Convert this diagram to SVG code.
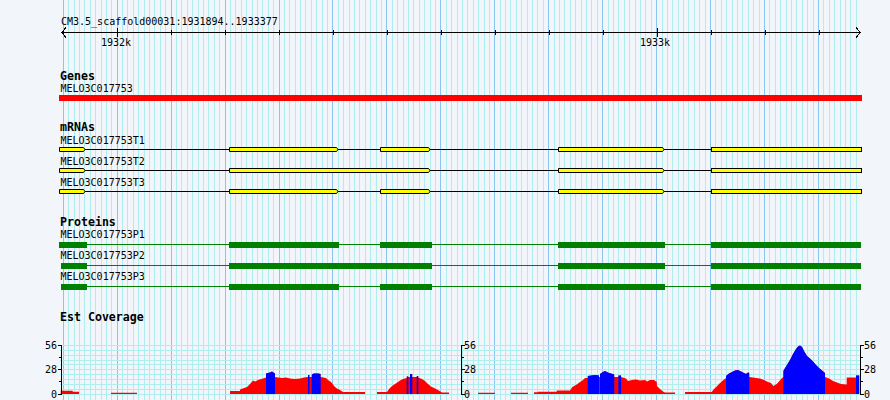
<svg xmlns="http://www.w3.org/2000/svg" xmlns:xlink="http://www.w3.org/1999/xlink" width="890" height="400" viewBox="0 0 890 400">
<style>
.mn{stroke:#afeeee;stroke-width:1;shape-rendering:crispEdges}
.mj{stroke:#87c6ee;stroke-width:1;shape-rendering:crispEdges}
.hg{stroke:#afeeee;stroke-width:1;shape-rendering:crispEdges}
.t{font-family:"DejaVu Sans Mono","Liberation Mono",monospace;font-size:10px;fill:#000}
.b{font-family:"DejaVu Sans Mono","Liberation Mono",monospace;font-size:11.6px;font-weight:bold;fill:#000}
.k{stroke:#000;stroke-width:1;fill:none;shape-rendering:crispEdges}
.ex{fill:#ffff00;stroke:#000;stroke-width:1}
.in{stroke:#000;stroke-width:1;shape-rendering:crispEdges}
.pl{stroke:#008000;stroke-width:1;shape-rendering:crispEdges}
.pb{fill:#008000;shape-rendering:crispEdges}
</style>
<defs>
<g id="blk">
<line class="mj" x1="0" y1="0" x2="0" y2="400"/>
<line class="mn" x1="5.394" y1="0" x2="5.394" y2="400"/>
<line class="mn" x1="10.789" y1="0" x2="10.789" y2="400"/>
<line class="mn" x1="16.183" y1="0" x2="16.183" y2="400"/>
<line class="mn" x1="21.578" y1="0" x2="21.578" y2="400"/>
<line class="mn" x1="26.972" y1="0" x2="26.972" y2="400"/>
<line class="mn" x1="32.366" y1="0" x2="32.366" y2="400"/>
<line class="mn" x1="37.761" y1="0" x2="37.761" y2="400"/>
<line class="mn" x1="43.155" y1="0" x2="43.155" y2="400"/>
<line class="mn" x1="48.550" y1="0" x2="48.550" y2="400"/>
</g>
<clipPath id="cov">
<path d="M60.7,394 V390.7 H72.7 V391.7 H79 V394 Z
M111,394 V392.7 H137 V394 Z
M230,394 V391 H240 V389.5 L247,387 L250,384 L253,380.5 L255,381.5 L258,380 L261,379 L263,378.5 L266,377.5 L266,373.5 L270,372.5 L272,371.5 L274,373 L275,373.5 L275,377 L278,377.5 L282,378 L286,377.5 L290,378.5 L295,379 L300,378.5 L304,377.5 L308,377 L308,375 L309.5,375 L309.5,377 L311.7,377 L311.7,374.5 L314,373.5 L318,373.5 L320.7,374 L320.7,377 L326,378 L328,380 L331,382 L333,384.5 L335,387 L337,388.5 L340,390 L343,392 H365 V394 Z
M377,394 V392 H387 L389,389 L392,386 L395,384 L398,382 L400,380.5 L403,379 L406.7,378 L406.7,376.5 L408.3,376.5 L408.3,377 L410,377 L410,374 L412.3,374 L412.3,377 L416.7,377 L416.7,376 L418.3,376 L418.3,377.5 L422,379 L425,381 L428,384 L431,386.5 L435,388.5 L438,390 L442,392.5 H449 V394 Z
M478,394 V392.7 H495 V394 Z
M511,394 V392.7 H528 V394 Z
M534,394 V392.3 H537.7 V391.7 H556.7 V390.5 H570 L572.3,387 L576.7,384.5 L580,382 L583,380 L585,378 H587.7 V376 L595,375 L599,375.5 V377 H600 V374 L603,372 L605,371 L607,372 L609,373 L611,373.5 L614.3,374.5 V377 H618.3 V375.5 H621 V377 L626,378.5 L628,381 L632,380 L636,379.5 L640,380.5 L645,380 L647,381.5 L650,380 L654,380 L656.7,382 L657,386 L660,389 L663,391.5 L665,392.5 H675 V394 Z
M685,394 V392 H711.7 L714,389 L716.7,386.5 L719,384 L721.7,381.5 L724,379.5 L726,378 V376 L729,373.5 L732,372 L735,370.5 L738,370 L741,371.5 L744,373 L746,374 L748,372.5 L749.3,373 V377 L753,377.5 L756,378 L760,378.5 L764,380 L768,382 L771,383 L773.3,386 L776.7,384 L779,381.5 L781,379 L783.3,377 V371 L786,366.5 L790,360 L793,354 L796,349 L798,346.5 L800,345.5 L802,347 L804,351 L807,356 L810,358.5 L813,361.5 L816,365 L819,368 L822,370.5 L825,373 V377 L829,378.5 L833,381 L837,382.5 L841,384 L846.7,384.5 V377.5 H856 V375.5 H859.3 V394 Z"/>
</clipPath>
</defs>
<rect x="0" y="0" width="890" height="400" fill="#f2f6fa"/>
<g id="grid">
<use xlink:href="#blk" x="63.24"/>
<use xlink:href="#blk" x="117.18"/>
<use xlink:href="#blk" x="171.13"/>
<use xlink:href="#blk" x="225.07"/>
<use xlink:href="#blk" x="279.02"/>
<use xlink:href="#blk" x="332.96"/>
<use xlink:href="#blk" x="386.90"/>
<use xlink:href="#blk" x="440.85"/>
<use xlink:href="#blk" x="494.79"/>
<use xlink:href="#blk" x="548.74"/>
<use xlink:href="#blk" x="602.68"/>
<use xlink:href="#blk" x="656.62"/>
<use xlink:href="#blk" x="710.57"/>
<use xlink:href="#blk" x="764.51"/>
<line class="mj" x1="818.46" y1="0" x2="818.46" y2="400"/>
<line class="mn" x1="823.85" y1="0" x2="823.85" y2="400"/>
<line class="mn" x1="829.25" y1="0" x2="829.25" y2="400"/>
<line class="mn" x1="834.64" y1="0" x2="834.64" y2="400"/>
<line class="mn" x1="840.04" y1="0" x2="840.04" y2="400"/>
<line class="mn" x1="845.43" y1="0" x2="845.43" y2="400"/>
<line class="mn" x1="850.83" y1="0" x2="850.83" y2="400"/>
<line class="mn" x1="856.22" y1="0" x2="856.22" y2="400"/>
</g>
<g id="ruler">
<text class="t" x="61" y="25">CM3.5_scaffold00031:1931894..1933377</text>
<path class="k" d="M61,32.5 H861 M66,27.5 L61.5,32.5 L66,37.5 M856,27.5 L860.5,32.5 L856,37.5"/>
<path class="k" d="M63.5,30 V35 M117.5,28 V37 M171.5,30 V35 M225.5,30 V35 M279.5,30 V35 M333.5,30 V35 M387.5,30 V35 M441.5,30 V35 M495.5,30 V35 M549.5,30 V35 M603.5,30 V35 M657.5,28 V37 M711.5,30 V35 M765.5,30 V35 M819.5,30 V35"/>
<text class="t" x="116" y="46" text-anchor="middle">1932k</text>
<text class="t" x="655" y="46" text-anchor="middle">1933k</text>
</g>
<g id="genes">
<text class="b" x="60" y="80">Genes</text>
<text class="t" x="60.5" y="92">MELO3C017753</text>
<rect x="59" y="95" width="803" height="6" fill="#ff0000"/>
</g>
<g id="mrnas">
<text class="b" x="60" y="131">mRNAs</text>
</g>
<g id="T1">
<text class="t" x="60.5" y="144">MELO3C017753T1</text>
<line class="in" x1="59" y1="149.5" x2="862" y2="149.5"/>
<polygon class="ex" points="59.5,147.5 83.5,147.5 85,149.5 83.5,151.5 59.5,151.5"/>
<polygon class="ex" points="229.5,147.5 336.5,147.5 338,149.5 336.5,151.5 229.5,151.5"/>
<polygon class="ex" points="380.5,147.5 428.5,147.5 430,149.5 428.5,151.5 380.5,151.5"/>
<polygon class="ex" points="558.5,147.5 662.5,147.5 664,149.5 662.5,151.5 558.5,151.5"/>
<rect class="ex" x="711.5" y="147.5" width="150" height="4"/>
</g>
<g id="T2">
<text class="t" x="60.5" y="165">MELO3C017753T2</text>
<line class="in" x1="59" y1="170.5" x2="862" y2="170.5"/>
<polygon class="ex" points="59.5,168.5 83.5,168.5 85,170.5 83.5,172.5 59.5,172.5"/>
<polygon class="ex" points="229.5,168.5 428.5,168.5 430,170.5 428.5,172.5 229.5,172.5"/>
<polygon class="ex" points="558.5,168.5 662.5,168.5 664,170.5 662.5,172.5 558.5,172.5"/>
<rect class="ex" x="711.5" y="168.5" width="150" height="4"/>
</g>
<g id="T3">
<text class="t" x="60.5" y="186">MELO3C017753T3</text>
<line class="in" x1="59" y1="191.5" x2="862" y2="191.5"/>
<polygon class="ex" points="59.5,189.5 83.5,189.5 85,191.5 83.5,193.5 59.5,193.5"/>
<polygon class="ex" points="229.5,189.5 336.5,189.5 338,191.5 336.5,193.5 229.5,193.5"/>
<polygon class="ex" points="380.5,189.5 428.5,189.5 430,191.5 428.5,193.5 380.5,193.5"/>
<polygon class="ex" points="558.5,189.5 662.5,189.5 664,191.5 662.5,193.5 558.5,193.5"/>
<rect class="ex" x="711.5" y="189.5" width="150" height="4"/>
</g>
<g id="proteins">
<text class="b" x="60" y="226">Proteins</text>
</g>
<g id="P1">
<text class="t" x="60.5" y="238">MELO3C017753P1</text>
<line class="pl" x1="59" y1="244.5" x2="861" y2="244.5"/>
<rect class="pb" x="59" y="242" width="28" height="6"/>
<rect class="pb" x="229" y="242" width="110" height="6"/>
<rect class="pb" x="380" y="242" width="52" height="6"/>
<rect class="pb" x="558" y="242" width="107" height="6"/>
<rect class="pb" x="711" y="242" width="150" height="6"/>
</g>
<g id="P2">
<text class="t" x="60.5" y="259">MELO3C017753P2</text>
<line class="pl" x1="61" y1="265.5" x2="861" y2="265.5"/>
<rect class="pb" x="61" y="263" width="26" height="6"/>
<rect class="pb" x="229" y="263" width="203" height="6"/>
<rect class="pb" x="558" y="263" width="107" height="6"/>
<rect class="pb" x="711" y="263" width="150" height="6"/>
</g>
<g id="P3">
<text class="t" x="60.5" y="280">MELO3C017753P3</text>
<line class="pl" x1="61" y1="286.5" x2="861" y2="286.5"/>
<rect class="pb" x="61" y="284" width="26" height="6"/>
<rect class="pb" x="229" y="284" width="110" height="6"/>
<rect class="pb" x="380" y="284" width="52" height="6"/>
<rect class="pb" x="558" y="284" width="107" height="6"/>
<rect class="pb" x="711" y="284" width="150" height="6"/>
</g>
<g id="coverage">
<text class="b" x="60" y="321">Est Coverage</text>
<path class="hg" d="M60,345.5 H860 M60,350.5 H860 M60,355.5 H860 M60,360.5 H860 M60,364.5 H860 M60,369.5 H860 M60,374.5 H860 M60,379.5 H860 M60,384.5 H860 M60,389.5 H860 M60,394.5 H860"/>
<g clip-path="url(#cov)">
<rect x="60" y="340" width="802" height="55" fill="#ff0000"/>
<g fill="#0000ff">
<rect x="266" y="340" width="9" height="55"/>
<rect x="308" y="340" width="1.5" height="55"/>
<rect x="311.7" y="340" width="9" height="55"/>
<rect x="406.7" y="340" width="1.6" height="55"/>
<rect x="410" y="340" width="2.3" height="55"/>
<rect x="416.7" y="340" width="1.6" height="55"/>
<rect x="587.7" y="340" width="11.3" height="55"/>
<rect x="600" y="340" width="14.3" height="55"/>
<rect x="618.3" y="340" width="2.7" height="55"/>
<rect x="726" y="340" width="23.3" height="55"/>
<rect x="783.3" y="340" width="41.7" height="55"/>
<rect x="856" y="340" width="3.3" height="55"/>
</g>
</g>
<path class="k" d="M61.5,345 V395 M58,345.5 H61 M58,369.5 H61 M58,394.5 H61 M59,357.5 H61 M59,381.5 H61"/>
<path class="k" d="M461.5,345 V395 M462,345.5 H465 M462,369.5 H465 M462,394.5 H465 M462,357.5 H464 M462,381.5 H464"/>
<path class="k" d="M860.5,345 V395 M861,345.5 H864 M861,369.5 H864 M861,394.5 H864 M861,357.5 H863 M861,381.5 H863"/>
<text class="t" x="57" y="349" text-anchor="end">56</text>
<text class="t" x="57" y="373" text-anchor="end">28</text>
<text class="t" x="57" y="397.5" text-anchor="end">0</text>
<text class="t" x="464" y="349">56</text>
<text class="t" x="464" y="373">28</text>
<text class="t" x="464" y="397.5">0</text>
<text class="t" x="864" y="349">56</text>
<text class="t" x="864" y="373">28</text>
<text class="t" x="864" y="397.5">0</text>
</g>
</svg>
